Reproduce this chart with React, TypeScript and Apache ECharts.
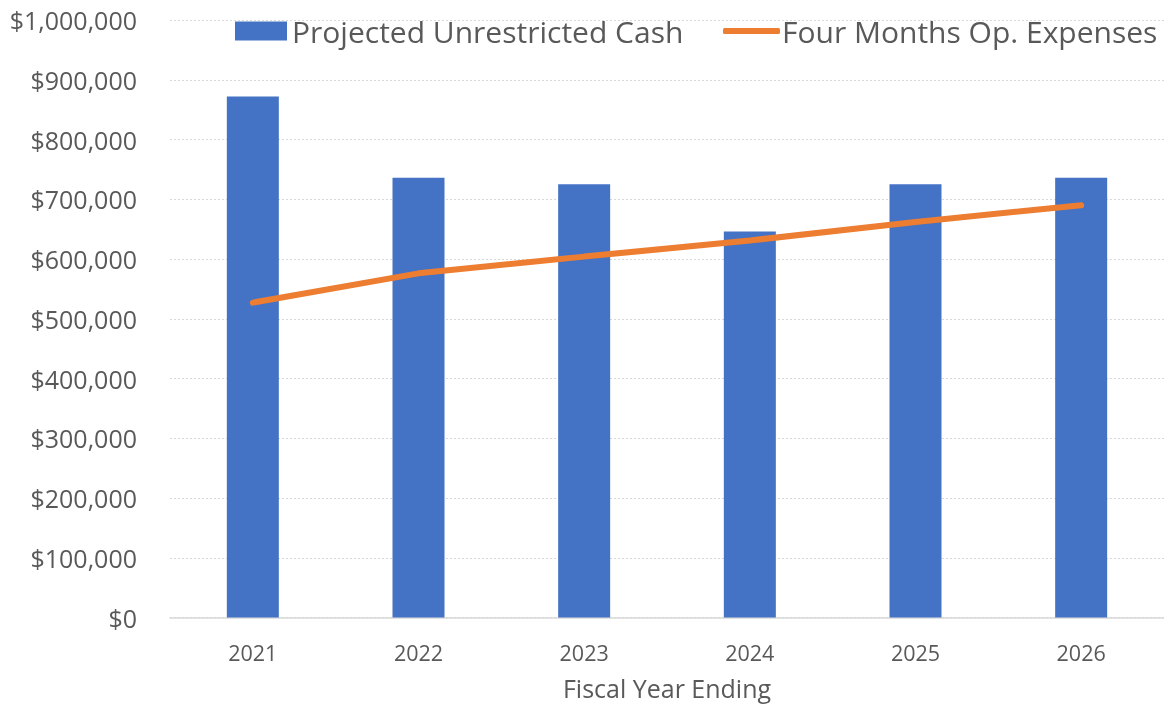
import React, { useEffect, useRef } from "react";
import * as echarts from "echarts";

const categories = ["2021", "2022", "2023", "2024", "2025", "2026"];
const projectedCash = [872000, 736000, 725000, 646000, 725000, 736000];
const fourMonthsOpEx = [527000, 576000, 604000, 631000, 662000, 690000];
const seriesNames = ["Projected Unrestricted Cash", "Four Months Op. Expenses"];

const FONT = "'Open Sans', Lato, sans-serif";
const TEXT = "#595959";

export default function App() {
  const ref = useRef<HTMLDivElement>(null);
  useEffect(() => {
    if (!ref.current) return;
    const chart = echarts.init(ref.current, undefined, { renderer: "svg" });
    const legendBase = { fontSize: 30, color: TEXT, fontFamily: FONT };
    chart.setOption({
      animation: false,
      textStyle: { fontFamily: FONT, color: TEXT },
      grid: { left: 170, right: 0, top: 20, bottom: 90.5, containLabel: false },
      legend: [
        {
          left: 230,
          top: 11,
          itemWidth: 52,
          itemHeight: 19,
          textStyle: { ...legendBase, padding: [0, 0, 0, 0] },
          data: [{ name: seriesNames[0], icon: "rect" }],
        },
        {
          left: 718,
          top: 11,
          itemWidth: 57,
          itemHeight: 6,
          textStyle: { ...legendBase, padding: [0, 0, 0, -3] },
          data: [{ name: seriesNames[1], icon: "roundRect" }],
        },
      ],
      xAxis: {
        type: "category",
        data: categories,
        name: "Fiscal Year Ending",
        nameLocation: "middle",
        nameGap: 58,
        nameTextStyle: { fontSize: 25, color: TEXT, fontFamily: FONT },
        axisLine: { lineStyle: { color: "#d9d9d9", width: 1.5 } },
        axisTick: { show: false },
        axisLabel: { fontSize: 21.5, color: TEXT, margin: 24, fontFamily: FONT },
      },
      yAxis: {
        type: "value",
        min: 0,
        max: 1000000,
        interval: 100000,
        axisLine: { show: false },
        axisTick: { show: false },
        axisLabel: {
          fontSize: 25,
          color: TEXT,
          margin: 33,
          fontFamily: FONT,
          formatter: (v: number) => "$" + v.toLocaleString("en-US"),
        },
        splitLine: { lineStyle: { color: "#d9d9d9", type: [2, 2], width: 1 } },
      },
      series: [
        {
          name: seriesNames[0],
          type: "bar",
          data: projectedCash,
          barWidth: 52,
          itemStyle: { color: "#4472c4" },
        },
        {
          name: seriesNames[1],
          type: "line",
          data: fourMonthsOpEx,
          symbol: "none",
          lineStyle: { color: "#ed7d31", width: 6, cap: "round" },
          itemStyle: { color: "#ed7d31" },
        },
      ],
    });
    return () => chart.dispose();
  }, []);
  return (
    <div
      ref={ref}
      style={{ position: "fixed", left: 0, top: 0, width: 1164, height: 708 }}
    />
  );
}
